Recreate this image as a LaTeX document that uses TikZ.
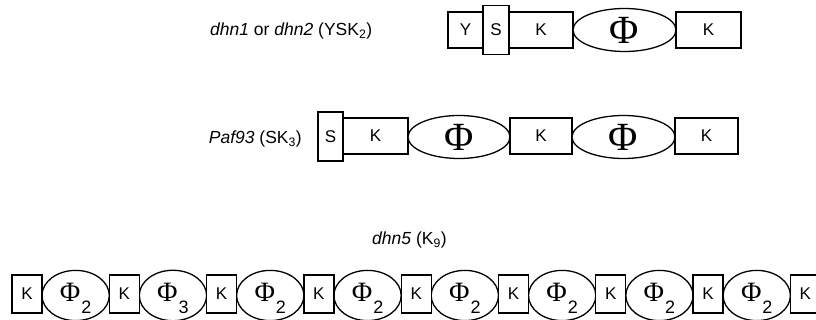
\documentclass[tikz,border=0pt]{standalone}
\usepackage{fontspec}
\setmainfont{Liberation Sans}
\newfontfamily\phifont{Liberation Serif}
\usetikzlibrary{shapes.geometric}

% Phi with a lowered sans-serif index
\newcommand{\phiidx}[1]{\rule{0pt}{23.5pt}{\phifont\fontsize{28}{28}\selectfont Φ}\kern1pt\raisebox{-12pt}{\fontsize{18}{18}\selectfont #1}}

\tikzset{
  segline/.style={line width=1.3pt},
  segbox/.style={segline, draw, fill=white, rectangle, inner sep=0pt,
                 minimum height=36pt, font=\fontsize{17}{17}\selectfont},
  sbox/.style={segbox, minimum height=49pt},
  phibig/.style={segline, draw, fill=white, ellipse, inner sep=0pt,
                 minimum height=43pt, font=\phifont\fontsize{40}{40}\selectfont},
  phismall/.style={segline, draw, fill=white, ellipse, inner sep=0pt,
                 minimum height=45pt},
  genelabel/.style={inner sep=0pt, font=\fontsize{17.5}{20}\selectfont},
}

\begin{document}
\begin{tikzpicture}[x=1pt, y=-1pt]
\useasboundingbox (0,0) rectangle (816,320);

% dhn1 / dhn2 : Y S K Phi K
\node[genelabel, anchor=west] (lab1) at (210,31)
  {\textit{dhn1} or \textit{dhn2} (YSK\textsubscript{2})};
\node[segbox, minimum width=35pt] (a-y) at (465.5,30) {Y};
\node[segbox, minimum width=64pt] (a-k1) at (541,30) {K};
\node[phibig, minimum width=103pt] (a-phi) at (624.5,30) {Φ};
\node[segbox, minimum width=65pt] (a-k2) at (708.5,30) {K};
\node[sbox, minimum width=26pt] (a-s) at (496,30) {S};

% Paf93 : S K Phi K Phi K
\node[genelabel, anchor=east] (lab2) at (302,139)
  {\textit{Paf93} (SK\textsubscript{3})};
\node[segbox, minimum width=65pt] (b-k1) at (375.5,136) {K};
\node[phibig, minimum width=102pt] (b-phi1) at (459,137) {Φ};
\node[segbox, minimum width=62pt] (b-k2) at (541,136) {K};
\node[phibig, minimum width=103pt] (b-phi2) at (623.5,137) {Φ};
\node[segbox, minimum width=63pt] (b-k3) at (706.5,136) {K};
\node[sbox, minimum width=25pt] (b-s) at (330.5,136.5) {S};

% dhn5 : nine K segments separated by Phi segments
\node[genelabel, anchor=west] (lab3) at (372,240)
  {\textit{dhn5} (K\textsubscript{9})};
\foreach \i/\sub in {1/2,2/3,3/2,4/2,5/2,6/2,7/2,8/2}{
  \pgfmathsetmacro{\cx}{12+30+(\i-1)*97.3+33.65}
  \node[phismall, minimum width=67.3pt] (c-p\i) at (\cx,295.5) {\phiidx{\sub}};
}
\foreach \i in {1,...,9}{
  \pgfmathsetmacro{\cx}{12+(\i-1)*97.3+15}
  \node[segbox, minimum width=30pt, minimum height=38pt] (c-k\i) at (\cx,294) {K};
}
\end{tikzpicture}
\end{document}
